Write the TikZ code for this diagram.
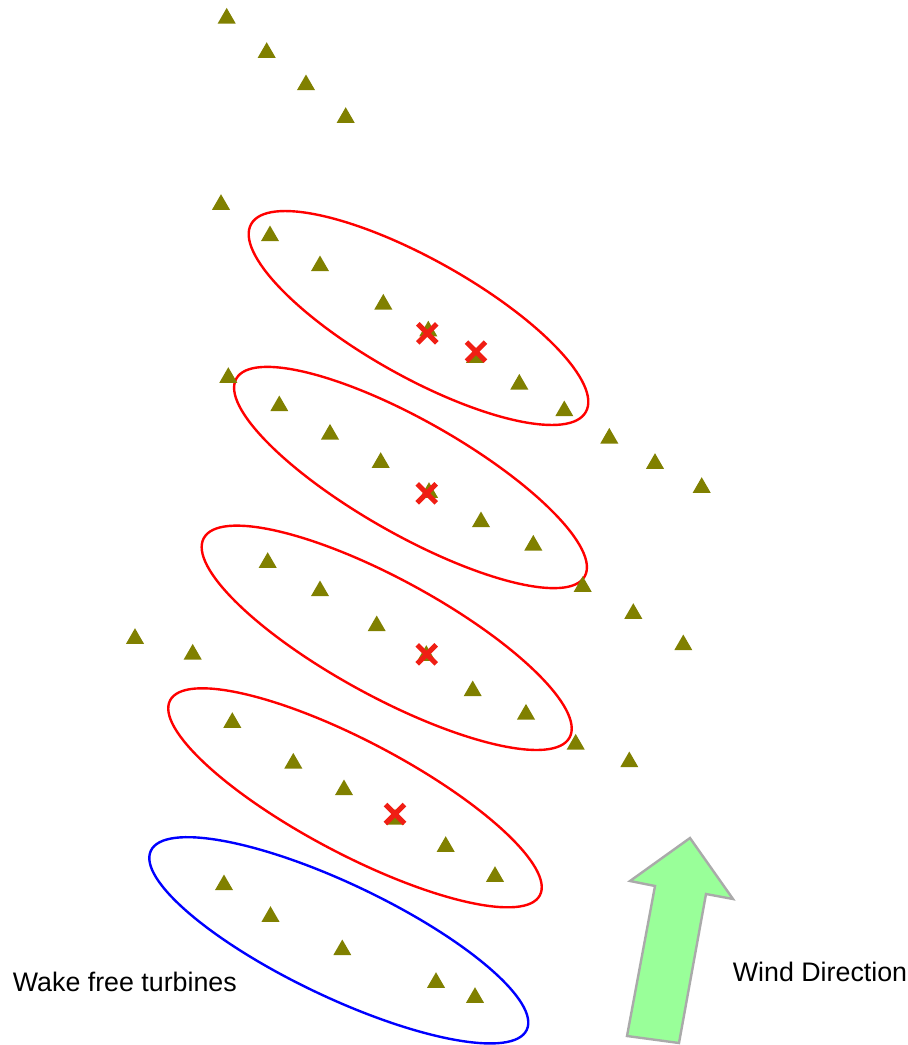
\documentclass[tikz,border=0pt]{standalone}
\usepackage{fontspec}
\setmainfont{Liberation Sans}
\usetikzlibrary{shapes.geometric,shapes.misc}
\definecolor{turb}{RGB}{128,128,0}
\definecolor{xred}{RGB}{240,30,20}
\definecolor{arrowfill}{RGB}{153,255,153}
\definecolor{arrowline}{RGB}{170,170,170}
\tikzset{
  tri/.style={regular polygon, regular polygon sides=3, fill=turb, draw=none,
              inner sep=0pt, minimum size=20.8pt, yshift=-2.6pt},
  xmark/.style={cross out, draw=xred, line width=5pt, inner sep=0pt,
                minimum size=14pt},
  group/.style={ellipse, draw=red, line width=2.4pt, inner sep=0pt},
  freegroup/.style={ellipse, draw=blue, line width=2.4pt, inner sep=0pt},
  label/.style={inner sep=0pt, anchor=base west, font=\fontsize{26.8}{32}\selectfont},
  windarrow/.style={fill=arrowfill, draw=arrowline, line width=2.4pt, line join=miter}
}
\begin{document}
\begin{tikzpicture}[x=1pt,y=-1pt]
\useasboundingbox (0,0) rectangle (908,1045);
% groups
\node[group, minimum width=383.8pt, minimum height=117.4pt, rotate=-29.3] (g1) at (418.5,318) {};
\node[group, minimum width=400.6pt, minimum height=113.8pt, rotate=-29.6] (g2) at (410.5,477.5) {};
\node[group, minimum width=416.6pt, minimum height=117pt, rotate=-28.6] (g3) at (386.7,637.8) {};
\node[group, minimum width=418pt, minimum height=112.8pt, rotate=-27.8] (g4) at (355,797.8) {};
\node[freegroup, minimum width=416.4pt, minimum height=113pt, rotate=-25.5] (g5) at (338.8,940.3) {};
% turbines
\foreach \px/\py [count=\i] in {
  226.7/15.7, 266.7/50, 306/82.3, 345.7/115,
  221/202, 270/233.3, 320/263.3, 383.3/301.7, 428.3/328.5, 475/355, 519.3/381.7, 564.3/408.3,
  609.3/435.7, 655/461, 701.7/485,
  228.3/375, 279.3/403.3, 330/431.7, 380.7/460, 429/490, 481/519.3, 533.3/542.7,
  582.7/584, 633.3/611, 683.3/642.3,
  267.7/560, 320/588.3, 376.7/623.3, 426.3/653, 472.7/688.3, 526/711.7, 575.7/741.7, 629.3/759.3,
  135/636, 192.7/651.7,
  232.3/720, 293.3/760.7, 344/787.3, 395/816.7, 445.7/844, 495/874,
  224/882.3, 270.5/914, 342.3/947.3, 436/980, 475/995}
  \node[tri] (t\i) at (\px,\py) {};
% wake-affected marks
\node[xmark] (x1) at (427.3,333.3) {};
\node[xmark] (x2) at (476,351.7) {};
\node[xmark] (x3) at (426.7,493.3) {};
\node[xmark] (x4) at (426.7,654.3) {};
\node[xmark] (x5) at (395,814) {};
% wind arrow
\coordinate (a1) at (690,838);
\coordinate (a2) at (733,899);
\coordinate (a3) at (706,894);
\coordinate (a4) at (679,1043);
\coordinate (a5) at (627,1036);
\coordinate (a6) at (655,886);
\coordinate (a7) at (630,881);
\draw[windarrow] (a1) -- (a2) -- (a3) -- (a4) -- (a5) -- (a6) -- (a7) -- cycle;
% labels
\node[label] (wft) at (12.7,991.7) {Wake free turbines};
\node[label] (wd) at (732.7,981.7) {Wind Direction};
\end{tikzpicture}
\end{document}
